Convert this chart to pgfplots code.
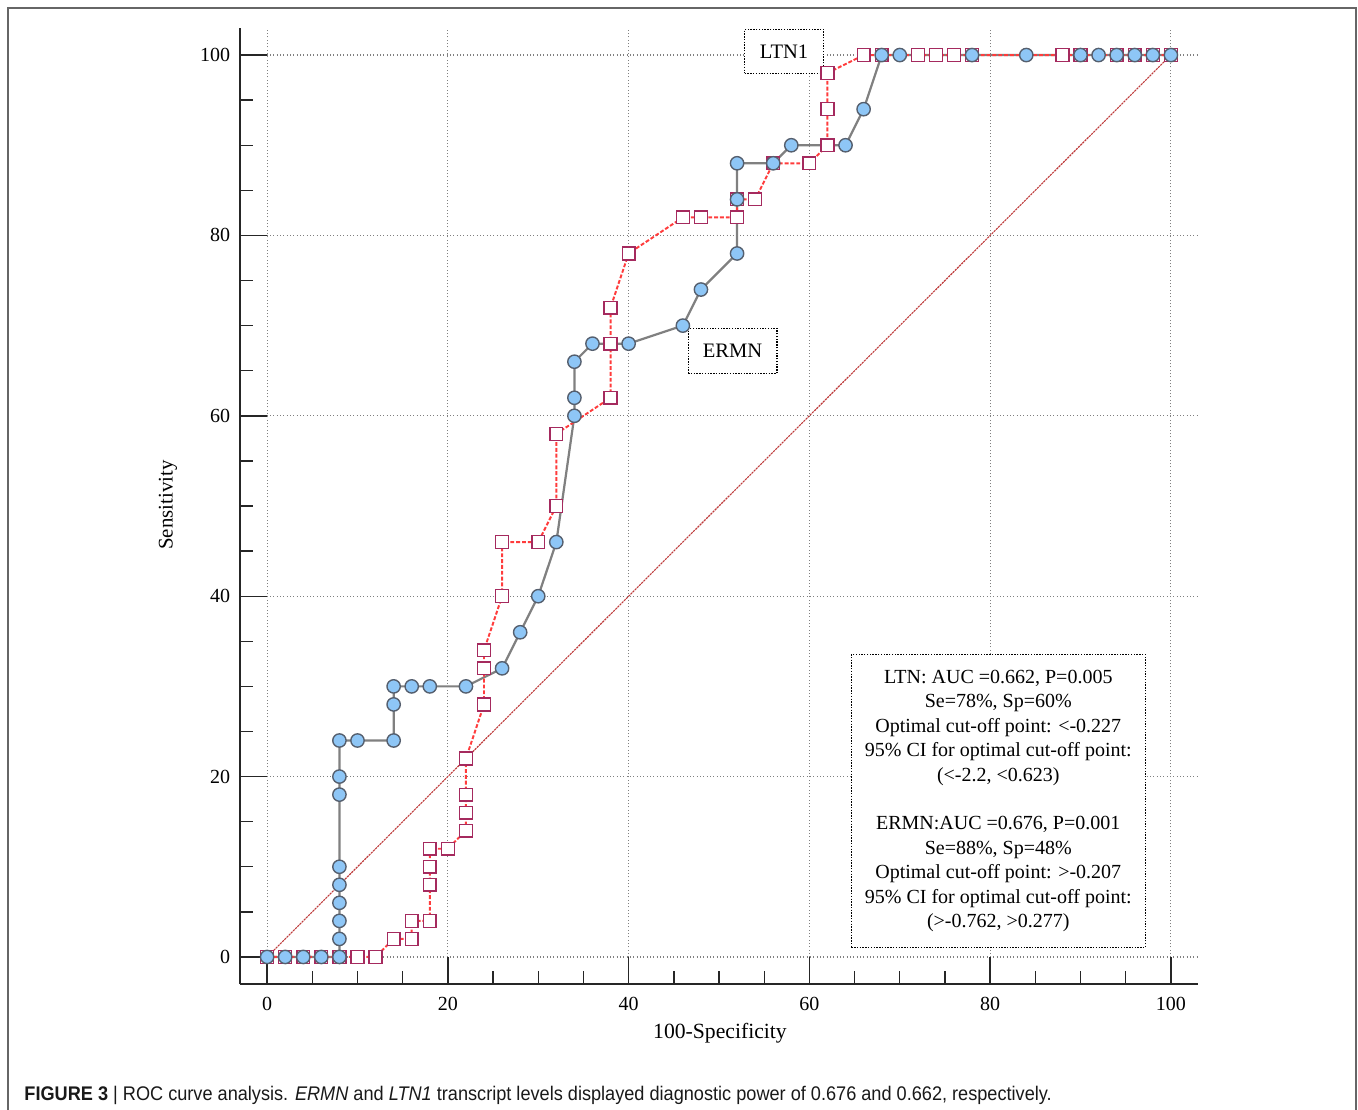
\documentclass[border=0pt]{standalone}
\usepackage{pgfplots}
\usepackage{pgfplotstable}
\pgfplotsset{compat=1.18}
\usepackage{fontspec}
\setmainfont{Liberation Serif}
\newfontfamily\capfont{Liberation Sans}
\definecolor{ermnfill}{RGB}{142,198,246}
\definecolor{ermnedge}{RGB}{85,95,110}
\definecolor{ermnline}{RGB}{128,128,128}
\definecolor{ltnline}{RGB}{255,60,60}
\definecolor{ltnmark}{RGB}{165,42,94}
\definecolor{diag}{RGB}{190,60,60}

\pgfplotstableread{
x y
0 0
2 0
4 0
6 0
8 0
8 2
8 4
8 6
8 8
8 10
8 18
8 20
8 24
10 24
14 24
14 28
14 30
16 30
18 30
22 30
26 32
28 36
30 40
32 46
34 60
34 62
34 66
36 68
40 68
46 70
48 74
52 78
52 84
52 88
56 88
58 90
64 90
66 94
68 100
70 100
78 100
84 100
90 100
92 100
94 100
96 100
98 100
100 100
}\ermn

\pgfplotstableread{
x y
0 0
2 0
4 0
6 0
8 0
10 0
12 0
14 2
16 2
16 4
18 4
18 8
18 10
18 12
20 12
22 14
22 16
22 18
22 22
24 28
24 32
24 34
26 40
26 46
30 46
32 50
32 58
38 62
38 68
38 72
40 78
46 82
48 82
52 82
52 84
54 84
56 88
60 88
62 90
62 94
62 98
66 100
68 100
72 100
74 100
76 100
78 100
88 100
90 100
94 100
96 100
98 100
100 100
}\ltn

\begin{document}
\begin{tikzpicture}
\useasboundingbox (-86.4pt,-45pt) rectangle (402.48pt,354.24pt);
\draw[black!60, line width=0.5pt] (-83.52pt,-46pt) -- (-83.52pt,351.36pt) -- (401.76pt,351.36pt) -- (401.76pt,-46pt);
\begin{axis}[
  at={(0pt,0pt)}, anchor=south west,
  scale only axis, width=344.88pt, height=344.16pt,
  xmin=-3, xmax=103, ymin=-3, ymax=103,
  axis x line*=bottom, axis y line*=left,
  axis line style={black!85, line width=0.6pt},
  xtick={0,20,...,100}, ytick={0,20,...,100},
  minor tick num=3,
  tick align=inside,
  major tick length=9.7pt, minor tick length=4.7pt,
  tick style={black!85, line width=0.5pt},
  grid=major,
  major grid style={gray, line width=0.4pt, dash pattern=on 0.4pt off 0.8pt},
  /pgf/number format/assume math mode=true,
  ticklabel style={font=\fontsize{7.2}{8}\selectfont},
  xticklabel style={yshift=-1.2pt},
  xlabel={100-Specificity}, ylabel={Sensitivity},
  every axis x label/.style={at={(axis description cs:0.501,-0.0513)}, anchor=center, font=\fontsize{7.8}{9}\selectfont},
  every axis y label/.style={at={(axis description cs:-0.0751,0.501)}, anchor=center, rotate=90, font=\fontsize{7.5}{9}\selectfont},
  clip=false,
]
\addplot[diag, line width=0.4pt, dash pattern=on 0.8pt off 0.3pt] coordinates {(0,0) (100,100)};
\addplot[no markers, ermnline, line width=0.8pt] table {\ermn};
\addplot[ltnline, line width=0.7pt, dash pattern=on 1.4pt off 0.7pt, mark=square*, mark size=2.3pt,
  mark options={solid, fill=white, draw=ltnmark, line width=0.5pt}] table {\ltn};
\addplot[only marks, mark=*, mark size=2.4pt, mark options={fill=ermnfill, draw=ermnedge, line width=0.5pt}] table {\ermn};

\node[draw=black, dash pattern=on 0.5pt off 0.5pt, line width=0.4pt, fill=white, minimum width=28.4pt, minimum height=15.8pt, inner sep=0pt, font=\fontsize{7.4}{9}\selectfont] at (axis cs:57.2,100.4) {LTN1};
\node[draw=black, dash pattern=on 0.5pt off 0.5pt, line width=0.4pt, fill=white, minimum width=32pt, minimum height=16.2pt, inner sep=0pt, font=\fontsize{7.4}{9}\selectfont] at (axis cs:51.5,67.2) {ERMN};
\node[draw=black, dash pattern=on 0.5pt off 0.5pt, line width=0.4pt, fill=white, minimum width=105.8pt, minimum height=105.5pt, inner sep=0pt, align=center, font=\fontsize{7.2}{8.8}\selectfont] at (axis cs:80.9,17.3)
{LTN: AUC =0.662, P=0.005\\ Se=78\%, Sp=60\%\\ Optimal cut-off point: <-0.227\\ 95\% CI for optimal cut-off point:\\ (<-2.2, <0.623)\\[8.8pt]
ERMN:AUC =0.676, P=0.001\\ Se=88\%, Sp=48\%\\ Optimal cut-off point: >-0.207\\ 95\% CI for optimal cut-off point:\\ (>-0.762, >0.277)};
\end{axis}
\node[anchor=base west, inner sep=0pt, text=black!90, font=\capfont\fontsize{7.1}{8}\selectfont] at (-77.8pt,-41.8pt) {\scalebox{0.92}[1]{\textbf{FIGURE 3} | ROC curve analysis. \textit{ERMN} and \textit{LTN1} transcript levels displayed diagnostic power of 0.676 and 0.662, respectively.}};
\end{tikzpicture}
\end{document}
